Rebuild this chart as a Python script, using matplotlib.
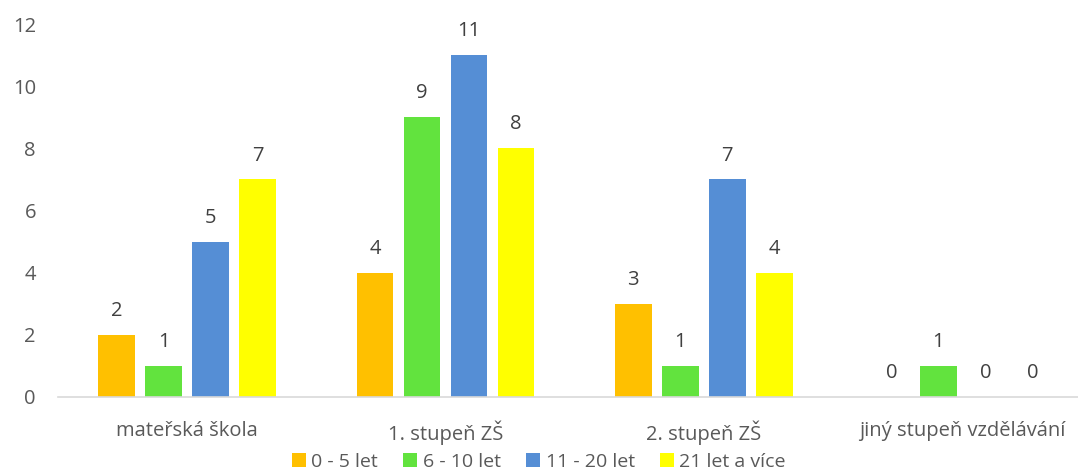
import numpy as np
import matplotlib.pyplot as plt

plt.rcParams['font.family'] = ['Open Sans', 'DejaVu Sans']

# Data
categories = ["mateřská škola", "1. stupeň ZŠ", "2. stupeň ZŠ", "jiný stupeň vzdělávání"]
series_names = ["0 - 5 let", "6 - 10 let", "11 - 20 let", "21 let a více"]
vals_0_5 = [2, 4, 3, 0]
vals_6_10 = [1, 9, 1, 1]
vals_11_20 = [5, 11, 7, 0]
vals_21 = [7, 8, 4, 0]
colors = ["#FFC000", "#62E33E", "#558ED5", "#FFFF00"]

text_col = "#595959"

fig = plt.figure(figsize=(10.78, 4.72), dpi=100)
ax = fig.add_axes([0.054, 0.159, 0.958, 0.79])

x = np.arange(len(categories))
width = 0.143
step = 0.182
all_vals = [vals_0_5, vals_6_10, vals_11_20, vals_21]
for i, (vals, name, col) in enumerate(zip(all_vals, series_names, colors)):
    pos = x + (i - 1.5) * step
    ax.bar(pos, vals, width, color=col, label=name, zorder=2)
    for p, v in zip(pos, vals):
        ax.annotate(str(v), (p, v), xytext=(0, 10), textcoords="offset points",
                    ha="center", va="bottom", fontsize=14.5, color="#404040")

ax.set_xlim(-0.5, 3.5)
ax.set_ylim(0, 12)
ax.set_yticks(range(0, 13, 2))
ax.set_xticks(x)
ax.set_xticklabels(categories)
ax.tick_params(axis="both", length=0, labelsize=14.5, labelcolor=text_col)
ax.tick_params(axis="x", pad=17)
ax.tick_params(axis="y", pad=16)
for s in ["top", "right", "left"]:
    ax.spines[s].set_visible(False)
ax.spines["bottom"].set_color("#D9D9D9")
ax.spines["bottom"].set_linewidth(1.2)

leg = fig.legend(loc="center", bbox_to_anchor=(0.5, 0.021), ncol=4, frameon=False,
                 fontsize=14, handlelength=0.7, handleheight=0.7, handletextpad=0.3,
                 columnspacing=1.3)
for t in leg.get_texts():
    t.set_color(text_col)

fig.savefig("out.png", dpi=100)
